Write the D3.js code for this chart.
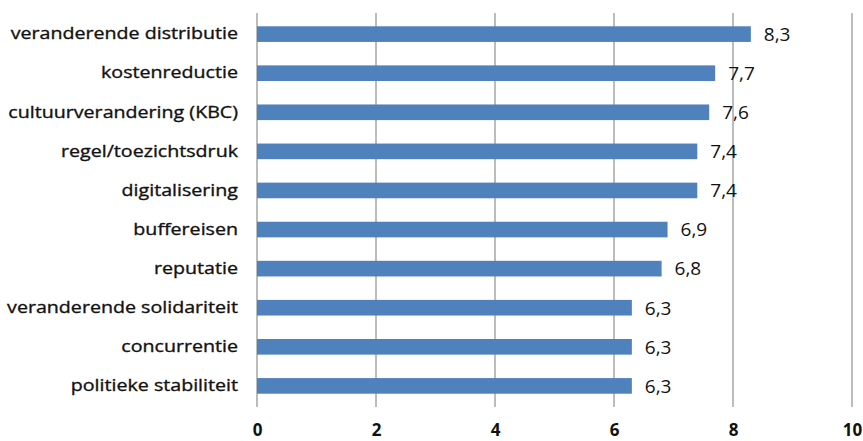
<!DOCTYPE html>
<html>
<head>
<meta charset="utf-8">
<script src="https://cdn.jsdelivr.net/npm/d3@7"></script>
<style>
  body { margin: 0; background: #fff; }
  svg { display: block; }
  text { font-family: "Open Sans", sans-serif; fill: #111; }
</style>
</head>
<body>
<svg id="chart" width="863" height="441"></svg>
<script>
// chart data, top to bottom
const categories = [
  'veranderende distributie',
  'kostenreductie',
  'cultuurverandering (KBC)',
  'regel/toezichtsdruk',
  'digitalisering',
  'buffereisen',
  'reputatie',
  'veranderende solidariteit',
  'concurrentie',
  'politieke stabiliteit'
]
const values = [8.3, 7.7, 7.6, 7.4, 7.4, 6.9, 6.8, 6.3, 6.3, 6.3]
const xTicks = [0, 2, 4, 6, 8, 10]

const margin = { top: 13, left: 257, right: 11, bottom: 34 }
const width = 863 - margin.left - margin.right
const height = 441 - margin.top - margin.bottom

const svg = d3.select('#chart')
const g = svg.append('g')
  .attr('transform', `translate(${margin.left},${margin.top})`)

const x = d3.scaleLinear().domain([0, 10]).range([0, width])
const y = d3.scaleBand().domain(categories).range([0, height])
  .paddingInner(0.6).paddingOuter(0.34)

// vertical gridlines
g.selectAll('line.grid')
  .data(xTicks)
  .enter().append('line')
  .attr('class', 'grid')
  .attr('x1', d => x(d)).attr('x2', d => x(d))
  .attr('y1', 0).attr('y2', height)
  .attr('stroke', '#8f8f8f')
  .attr('stroke-width', 1.2)

// bars
const data = categories.map((c, i) => ({ cat: c, val: values[i] }))
g.selectAll('rect.bar')
  .data(data)
  .enter().append('rect')
  .attr('class', 'bar')
  .attr('x', 0)
  .attr('y', d => y(d.cat))
  .attr('width', d => x(d.val))
  .attr('height', y.bandwidth())
  .attr('fill', '#4f81bd')

// value labels
g.selectAll('text.val')
  .data(data)
  .enter().append('text')
  .attr('class', 'val')
  .attr('x', d => x(d.val) + 13)
  .attr('y', d => y(d.cat) + y.bandwidth() / 2)
  .attr('dy', '0.36em')
  .attr('font-size', 19)
  .text(d => String(d.val).replace('.', ','))

// category axis - text is a bit wider in the original, so stretch it
const yAxis = d3.axisLeft(y).tickSize(0).tickPadding(0)
const ya = g.append('g').call(yAxis)
ya.select('.domain').remove()
ya.selectAll('text')
  .attr('x', 0)
  .attr('transform', 'translate(-19,0) scale(1.19,1)')
  .attr('font-size', 16.5)
  .style('font-family', '"Open Sans", sans-serif')
  .attr('fill', '#151515')
  .attr('stroke', '#151515')
  .attr('stroke-width', 0.35)

// value axis
const xAxis = d3.axisBottom(x).tickValues(xTicks).tickSize(0).tickPadding(17)
const xa = g.append('g').attr('transform', `translate(0,${height})`).call(xAxis)
xa.select('.domain').remove()
xa.selectAll('text')
  .attr('font-size', 17)
  .attr('font-weight', 700)
  .style('font-family', '"Open Sans", sans-serif')
  .attr('fill', '#111')
</script>
</body>
</html>
